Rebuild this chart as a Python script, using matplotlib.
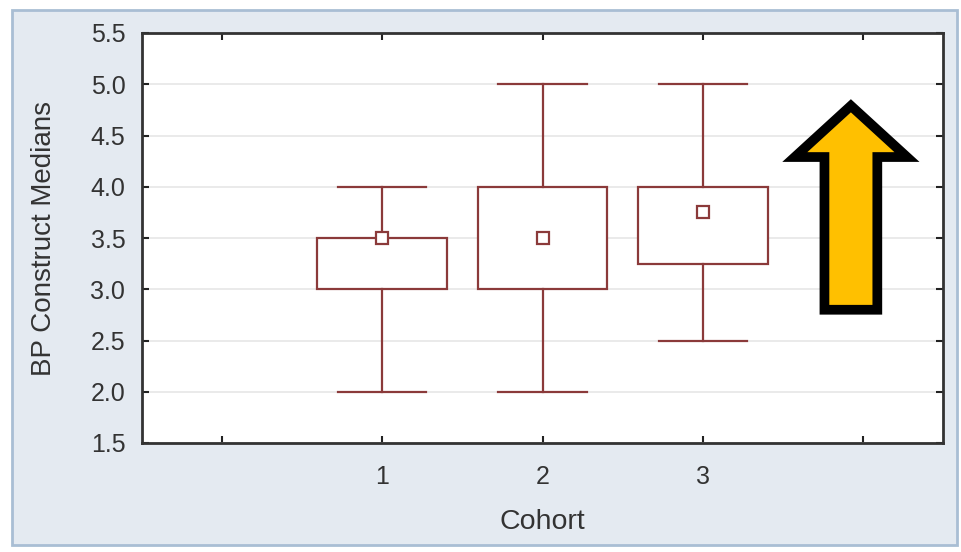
import matplotlib
matplotlib.use('Agg')
import matplotlib.pyplot as plt
import matplotlib.patches as mpatches

# values
cohorts = [1, 2, 3]
whisker_low = [2.0, 2.0, 2.5]
box_low = [3.0, 3.0, 3.25]
medians = [3.5, 3.5, 3.75]
box_high = [3.5, 4.0, 4.0]
whisker_high = [4.0, 5.0, 5.0]

y_ticks = [1.5, 2.0, 2.5, 3.0, 3.5, 4.0, 4.5, 5.0, 5.5]
x_ticks = [0, 1, 2, 3, 4]
x_tick_labels = ['', '1', '2', '3', '']

box_color = '#8b3a3a'
plt.rcParams['font.family'] = ['Liberation Sans', 'DejaVu Sans']


def make_stats():
    stats = []
    for i in range(len(cohorts)):
        stats.append({
            'whislo': whisker_low[i],
            'q1': box_low[i],
            'med': medians[i],
            'q3': box_high[i],
            'whishi': whisker_high[i],
            'fliers': [],
        })
    return stats


def draw_chart():
    fig = plt.figure(figsize=(9.61, 5.52), dpi=100)
    fig.patch.set_facecolor('white')
    # light blue panel behind the plot
    frame = mpatches.Rectangle((0.0125, 0.0127), 0.983, 0.969, transform=fig.transFigure,
                               facecolor='#e4eaf1', edgecolor='#a9bed4', linewidth=2, zorder=-5)
    fig.add_artist(frame)

    ax = fig.add_axes([142 / 961, 1 - 443 / 552, 801 / 961, 410 / 552])
    ax.set_zorder(1)
    ax.set_facecolor('white')

    line_props = dict(color=box_color, linewidth=1.6)
    ax.bxp(make_stats(), positions=cohorts, widths=0.81, capwidths=0.55,
           patch_artist=True,
           boxprops=dict(facecolor='white', edgecolor=box_color, linewidth=1.6),
           whiskerprops=line_props, capprops=line_props,
           medianprops=dict(linewidth=0), showfliers=False, zorder=3)
    ax.plot(cohorts, medians, linestyle='none', marker='s', markersize=9,
            markerfacecolor='white', markeredgecolor=box_color, markeredgewidth=1.6, zorder=4)

    # yellow arrow on the right
    arrow = mpatches.FancyArrow(3.925, 2.80, 0, 1.99, width=0.33, head_width=0.70,
                                head_length=0.50, length_includes_head=True,
                                facecolor='#ffc000', edgecolor='black', linewidth=7,
                                joinstyle='miter', zorder=5)
    ax.add_patch(arrow)

    ax.set_xlim(-0.5, 4.5)
    ax.set_ylim(1.5, 5.5)
    ax.set_yticks(y_ticks)
    ax.set_yticklabels([f'{v:.1f}' for v in y_ticks])
    ax.set_xticks(x_ticks)
    ax.set_xticklabels(x_tick_labels)
    ax.yaxis.grid(True, color='#e6e6e6', linewidth=1.2, zorder=0)
    ax.set_axisbelow(True)

    ax.tick_params(axis='both', direction='in', length=5, width=1.5, color='#222222',
                   top=True, right=True, labelsize=18, labelcolor='#333333')
    ax.tick_params(axis='x', pad=16)
    ax.tick_params(axis='y', pad=12)
    for s in ax.spines.values():
        s.set_linewidth(2)
        s.set_color('#333333')

    ax.set_xlabel('Cohort', fontsize=20.5, color='#333333', labelpad=14)
    ax.set_ylabel('BP Construct Medians', fontsize=20, color='#333333', labelpad=24)

    fig.savefig('out.png', dpi=100, facecolor=fig.get_facecolor())


if __name__ == '__main__':
    draw_chart()
